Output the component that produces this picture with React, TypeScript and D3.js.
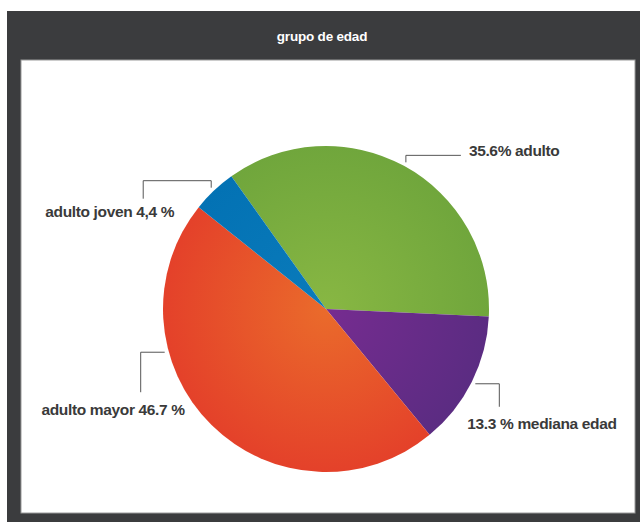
import React from "react";
import * as d3 from "d3";

const categories = ["adulto", "mediana edad", "adulto mayor", "adulto joven"];
const values = [35.6, 13.3, 46.7, 4.4];
const labelTexts = ["35.6% adulto", "13.3 % mediana edad", "adulto mayor 46.7 %", "adulto joven 4,4 %"];
const title = "grupo de edad";

const colorsInner = ["#88b743", "#762c90", "#ea6b2b", "#0a7bbb"];
const colorsOuter = ["#70a63c", "#5b2c82", "#e4412a", "#0372b4"];

// layout of leader lines (relative steps from anchor) and text offsets from line end
const labelLayout = [
  { anchorDeg: null as number | null, steps: [[0, -7], [55, 0]], tdx: 8, tdy: -5, ta: "start" },
  { anchorDeg: null as number | null, steps: [[24, 0], [0, 23]], tdx: -32, tdy: 17, ta: "start" },
  { anchorDeg: 255 as number | null, steps: [[-24, 0], [0, 40]], tdx: 44, tdy: 17, ta: "end" },
  { anchorDeg: null as number | null, steps: [[0, -7], [-68, 0], [0, 18]], tdx: 31, tdy: 13, ta: "end" },
];

const W = 640;
const H = 522;
const cx = 326;
const cy = 309;
const R = 163;
const startDeg = -35.5;

export default function App() {
  const data = categories.map((c, i) => ({ c, v: values[i], i }));
  const start = (startDeg * Math.PI) / 180;
  const pie = d3
    .pie<any>()
    .sort(null)
    .value((d: any) => d.v)
    .startAngle(start)
    .endAngle(start + 2 * Math.PI);
  const arcs = pie(data);
  const arc = d3.arc<any>().innerRadius(0).outerRadius(R);

  return (
    <svg
      width={W}
      height={H}
      style={{ position: "absolute", left: 0, top: 0 }}
      viewBox={`0 0 ${W} ${H}`}
    >
      <defs>
        {arcs.map((a, i) => (
          <radialGradient
            key={i}
            id={`g${i}`}
            gradientUnits="userSpaceOnUse"
            cx={0}
            cy={0}
            r={R}
          >
            <stop offset="0%" stopColor={colorsInner[i]} />
            <stop offset="100%" stopColor={colorsOuter[i]} />
          </radialGradient>
        ))}
      </defs>
      <rect x={0} y={0} width={W} height={H} fill="#ffffff" />
      <rect x={7} y={11} width={W - 7} height={H - 11} fill="#3b3c3e" />
      <rect x={21} y={60} width={614} height={453} fill="#ffffff" stroke="#9a9a9a" strokeWidth={1} />
      <text
        x={322}
        y={36}
        textAnchor="middle"
        dominantBaseline="central"
        fill="#ffffff"
        fontFamily="Liberation Sans, Arial, sans-serif"
        fontWeight="bold"
        fontSize={13.5}
        letterSpacing={-0.2}
      >
        {title}
      </text>
      <g transform={`translate(${cx},${cy})`}>
        {arcs.map((a, i) => (
          <path key={i} d={arc(a) || ""} fill={`url(#g${i})`} />
        ))}
      </g>
      {arcs.map((a, i) => {
        const lay = labelLayout[i];
        const ang =
          lay.anchorDeg !== null
            ? (lay.anchorDeg * Math.PI) / 180
            : (a.startAngle + a.endAngle) / 2;
        const rr = R + 4;
        let x = cx + rr * Math.sin(ang);
        let y = cy - rr * Math.cos(ang);
        const pts: [number, number][] = [[x, y]];
        lay.steps.forEach(([dx, dy]) => {
          x += dx;
          y += dy;
          pts.push([x, y]);
        });
        const line = d3.line()(pts) || "";
        return (
          <g key={i}>
            <path d={line} fill="none" stroke="#555555" strokeWidth={1} />
            <text
              x={x + lay.tdx}
              y={y + lay.tdy}
              textAnchor={lay.ta as any}
              dominantBaseline="central"
              fill="#3a3a3a"
              fontFamily="Liberation Sans, Arial, sans-serif"
              fontWeight="bold"
              fontSize={15.5}
              letterSpacing={-0.35}
            >
              {labelTexts[i]}
            </text>
          </g>
        );
      })}
    </svg>
  );
}
